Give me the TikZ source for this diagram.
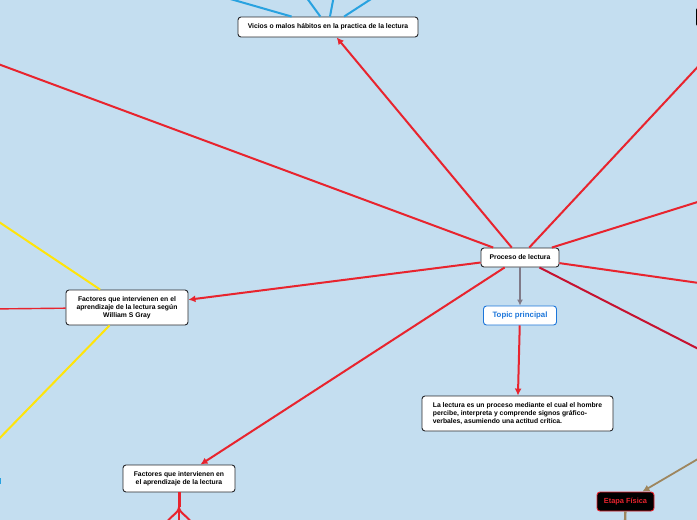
\documentclass[tikz,border=0pt]{standalone}
\usepackage{fontspec}
\setmainfont{Liberation Sans}
\usetikzlibrary{arrows.meta,calc,positioning}
\definecolor{mmbg}{RGB}{196,222,240}
\definecolor{mmred}{RGB}{232,36,46}
\definecolor{mmcrimson}{RGB}{198,18,48}
\definecolor{mmdark}{RGB}{40,40,44}
\definecolor{mmblue}{RGB}{40,162,224}
\definecolor{mmtopic}{RGB}{28,118,218}
\definecolor{mmyellow}{RGB}{255,228,10}
\definecolor{mmbrown}{RGB}{158,134,94}
\definecolor{mmgray}{RGB}{128,122,136}

\begin{document}
\begin{tikzpicture}[x=1pt, y=-1pt,
      box/.style={rectangle, rounded corners=3pt, draw=mmdark, fill=white, line width=0.9pt, align=center, inner sep=2pt, font=\fontsize{6.8}{8}\selectfont\bfseries},
      topicbox/.style={box, draw=mmtopic, text=mmtopic, font=\fontsize{7.8}{8}\selectfont\bfseries},
      stagebox/.style={box, fill=black, draw=mmred, text=mmred, font=\fontsize{7.4}{8}\selectfont\bfseries},
      link/.style={line width=2pt, color=mmred},
      arr/.style={-{Latex[length=7pt, width=7pt]}, line width=2pt, color=mmred}
    ]
      \clip (0,0) rectangle (697,520);
      \fill[mmbg] (0,0) rectangle (697,520);

      % Central topic and its child
      \node[box, minimum width=78, minimum height=19] (proc) at (520,257.5) {Proceso de lectura};
      \node[topicbox, minimum width=73, minimum height=19] (topic) at (520,315.5) {Topic principal};
      \node[box, minimum width=191, minimum height=35, align=left] (defn) at (517.5,413.5) {La lectura es un proceso mediante el cual el hombre\\percibe, interpreta y comprende signos gr\'afico-\\verbales, asumiendo una actitud cr\'itica.};

      % Main branches
      \node[box, minimum width=180, minimum height=20] (vicios) at (328,27) {Vicios o malos h\'abitos en la practica de la lectura};
      \node[box, minimum width=122, minimum height=35] (gray) at (127,307.5) {Factores que intervienen en el\\aprendizaje de la lectura seg\'un\\William S Gray};
      \node[box, minimum width=112, minimum height=27] (factors) at (179,478.5) {Factores que intervienen en\\el aprendizaje de la lectura};
      \node[stagebox, minimum width=57, minimum height=19] (stage) at (625.5,501.5) {Etapa F\'isica};

      % Nodes cut by the edge
      \node[rectangle, fill=black, rounded corners=2pt, minimum width=30, minimum height=18] (edgeNE) at (711,17) {};
      \node[rectangle, fill=mmblue, minimum width=8, minimum height=6] (edgeW) at (-3,481) {};

      % Free ends
      \coordinate (offNW) at (-10,61);
      \coordinate (offNE) at (720,43);
      \coordinate (offE1) at (720,195);
      \coordinate (offE2) at (720,286);
      \coordinate (offE3) at (720,360);
      \coordinate (offSE) at (720,446);
      \coordinate (stageDown) at (625,530);
      \coordinate (viciosA) at (199,-10);
      \coordinate (viciosB) at (301,-10);
      \coordinate (viciosC) at (335,-10);
      \coordinate (viciosD) at (385,-10);
      \coordinate (grayUp) at (-10,216);
      \coordinate (grayMid) at (-10,309);
      \coordinate (grayDown) at (-10,448);
      \coordinate (fork) at (179,507);
      \coordinate (leafA) at (164,528);
      \coordinate (leafB) at (179,528);
      \coordinate (leafC) at (194,528);

      % Arrows out of the central topic
      \draw[arr] (proc) -- (vicios);
      \draw[arr] (proc) -- (gray);
      \draw[arr] (proc) -- (factors);
      \draw[arr, color=mmgray, line width=1.6pt, -{Latex[length=6pt, width=6pt]}] (proc) -- (topic);
      \draw[arr] (topic) -- (defn);
      \draw[link] (proc) -- (offNW);
      \draw[link] (proc) -- (offNE);
      \draw[link] (proc) -- (offE1);
      \draw[link] (proc) -- (offE2);
      \draw[link, color=mmcrimson] (proc) -- (offE3);

      % Sub branches
      \draw[link, color=mmblue] (vicios) -- (viciosA);
      \draw[link, color=mmblue] (vicios) -- (viciosB);
      \draw[link, color=mmblue] (vicios) -- (viciosC);
      \draw[link, color=mmblue] (vicios) -- (viciosD);
      \draw[link, color=mmyellow] (gray) -- (grayUp);
      \draw[link, color=mmyellow] (gray) -- (grayDown);
      \draw[link, line width=1.4pt] (gray) -- (grayMid);
      \draw[link, line width=3pt] (factors) -- (fork);
      \draw[link] (fork) .. controls (179,514) and (168,516) .. (leafA);
      \draw[link] (fork) -- (leafB);
      \draw[link] (fork) .. controls (179,514) and (190,516) .. (leafC);
      \draw[arr, color=mmbrown, line width=1.8pt] (offSE) -- (stage);
      \draw[link, color=mmbrown, line width=2.4pt] (stage) -- (stageDown);
    \end{tikzpicture}
\end{document}
